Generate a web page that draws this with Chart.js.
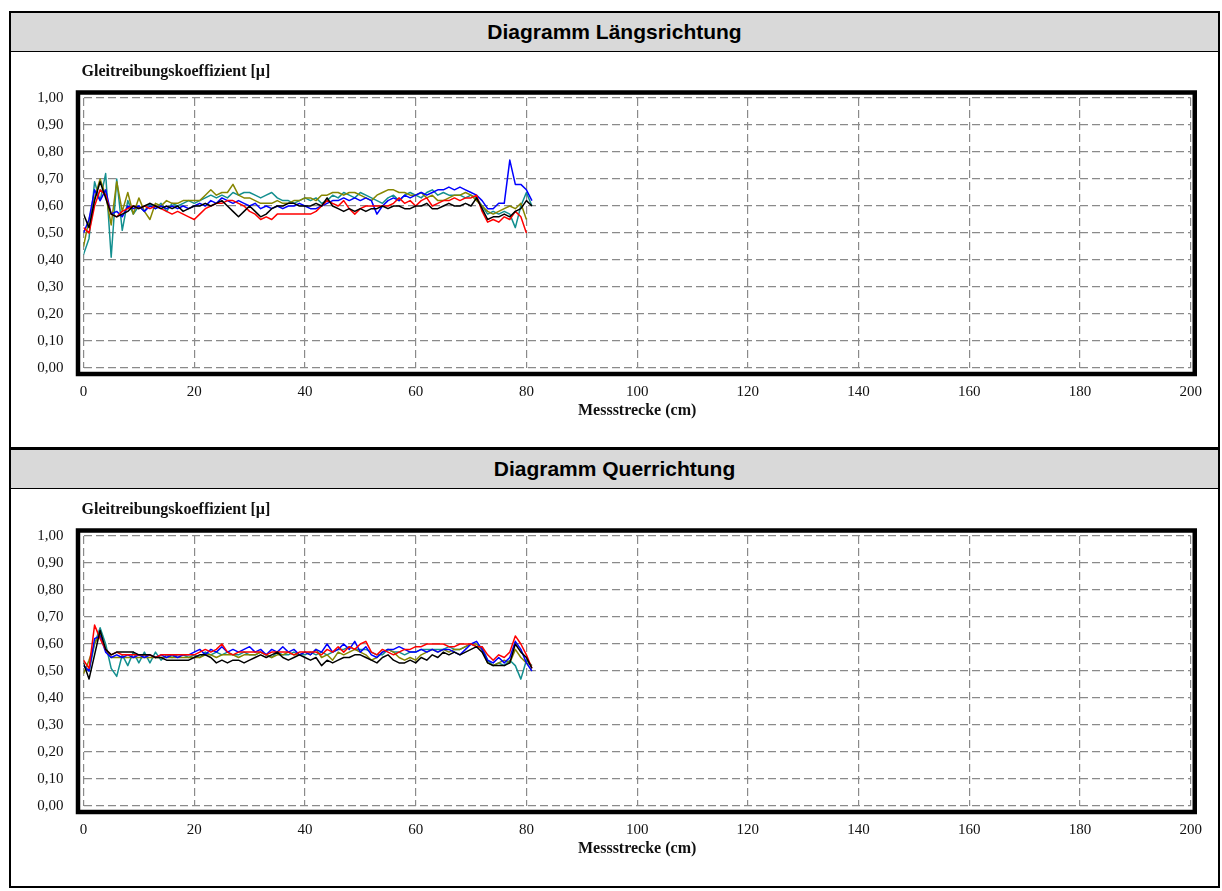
<!DOCTYPE html>
<html>
<head>
<meta charset="utf-8">
<script src="https://cdn.jsdelivr.net/npm/chart.js@4"></script>
<style>
  html, body { margin: 0; padding: 0; background: #fff; }
  body { width: 1222px; height: 891px; position: relative; overflow: hidden; }
  .frame { position: absolute; left: 9px; top: 11px; width: 1207px; height: 873px; border: 2px solid #000; }
  .band { position: absolute; left: 11px; width: 1207px; height: 38px; background: #d9d9d9;
          border-bottom: 1px solid #000; display: flex; align-items: center; justify-content: center;
          font: bold 21px "Liberation Sans", Arial, sans-serif; color: #000; }
  .sep { position: absolute; left: 9px; width: 1211px; height: 3px; background: #000; }
  canvas { position: absolute; left: 12px; }
</style>
</head>
<body>
<div class="frame"></div>
<div class="band" style="top:13px">Diagramm Längsrichtung</div>
<canvas id="chart-laengs" width="1205" height="392" style="top:54px"></canvas>
<div class="sep" style="top:447px"></div>
<div class="band" style="top:450px">Diagramm Querrichtung</div>
<canvas id="chart-quer" width="1205" height="392" style="top:492px"></canvas>

<script>
/* ═══════════════════════════════════
   DATA  (Messstrecke in cm, Werte in µ)
═══════════════════════════════════ */

var strecke = [0,1,2,3,4,5,6,7,8,9,10,11,12,13,14,15,16,17,18,19,20,21,22,23,24,25,26,27,28,29,
  30,31,32,33,34,35,36,37,38,39,40,41,42,43,44,45,46,47,48,49,50,51,52,53,54,55,56,57,58,59,
  60,61,62,63,64,65,66,67,68,69,70,71,72,73,74,75,76,77,78,79,80,81];

var xTicks = [0,20,40,60,80,100,120,140,160,180,200];
var yTicks = [0,0.1,0.2,0.3,0.4,0.5,0.6,0.7,0.8,0.9,1.0];

// Längsrichtung
var laengsBlau = [0.50,0.55,0.66,0.62,0.66,0.57,0.58,0.56,0.60,0.59,
  0.60,0.58,0.60,0.59,0.60,0.59,0.60,0.59,0.60,0.59,
  0.60,0.61,0.60,0.62,0.61,0.63,0.62,0.61,0.62,0.61,
  0.60,0.61,0.59,0.60,0.59,0.60,0.59,0.60,0.60,0.61,
  0.60,0.59,0.59,0.60,0.61,0.62,0.62,0.63,0.62,0.63,
  0.62,0.63,0.62,0.57,0.60,0.62,0.63,0.62,0.64,0.63,
  0.64,0.65,0.64,0.65,0.66,0.66,0.67,0.66,0.67,0.66,
  0.65,0.64,0.62,0.59,0.59,0.61,0.61,0.77,0.68,0.68,0.66,0.62];
var laengsRot = [0.52,0.50,0.60,0.66,0.64,0.57,0.56,0.58,0.59,0.60,
  0.59,0.60,0.59,0.60,0.59,0.58,0.57,0.58,0.57,0.56,
  0.55,0.57,0.59,0.60,0.61,0.61,0.62,0.62,0.61,0.60,
  0.58,0.57,0.55,0.56,0.55,0.57,0.57,0.57,0.57,0.57,
  0.57,0.57,0.58,0.60,0.62,0.61,0.60,0.62,0.59,0.57,
  0.59,0.60,0.60,0.60,0.60,0.60,0.61,0.63,0.61,0.62,
  0.60,0.62,0.63,0.60,0.61,0.62,0.62,0.63,0.62,0.63,
  0.63,0.64,0.58,0.54,0.55,0.54,0.56,0.55,0.58,0.56,0.50];
var laengsSchwarz = [0.57,0.52,0.62,0.69,0.63,0.57,0.56,0.57,0.58,0.60,
  0.59,0.60,0.61,0.60,0.59,0.60,0.59,0.60,0.58,0.59,
  0.60,0.60,0.61,0.60,0.61,0.62,0.60,0.58,0.56,0.58,
  0.60,0.58,0.56,0.57,0.59,0.60,0.60,0.61,0.61,0.60,
  0.60,0.60,0.61,0.60,0.63,0.60,0.59,0.58,0.59,0.58,
  0.59,0.58,0.59,0.59,0.60,0.59,0.60,0.60,0.59,0.59,
  0.60,0.60,0.61,0.59,0.59,0.60,0.61,0.60,0.60,0.61,
  0.60,0.63,0.59,0.55,0.56,0.56,0.57,0.56,0.58,0.59,0.62,0.60];
var laengsTuerkis = [0.42,0.48,0.69,0.62,0.72,0.41,0.70,0.51,0.62,0.57,
  0.60,0.58,0.61,0.59,0.61,0.58,0.61,0.60,0.61,0.62,
  0.61,0.62,0.63,0.64,0.63,0.64,0.63,0.65,0.64,0.65,
  0.65,0.64,0.63,0.64,0.65,0.63,0.62,0.62,0.61,0.62,
  0.63,0.62,0.63,0.61,0.62,0.64,0.63,0.65,0.64,0.63,
  0.65,0.64,0.63,0.62,0.61,0.63,0.64,0.62,0.64,0.65,
  0.64,0.63,0.65,0.66,0.64,0.65,0.64,0.64,0.64,0.63,
  0.64,0.63,0.60,0.57,0.58,0.57,0.58,0.57,0.52,0.60,0.65,0.60];
var laengsOliv = [0.45,0.55,0.63,0.70,0.64,0.53,0.69,0.58,0.65,0.57,
  0.63,0.58,0.55,0.61,0.60,0.62,0.61,0.61,0.62,0.62,
  0.62,0.62,0.64,0.66,0.64,0.65,0.65,0.68,0.64,0.63,
  0.63,0.62,0.61,0.61,0.61,0.62,0.61,0.61,0.62,0.62,
  0.63,0.63,0.62,0.64,0.64,0.65,0.65,0.64,0.65,0.65,
  0.64,0.63,0.62,0.64,0.65,0.66,0.66,0.65,0.65,0.64,
  0.64,0.65,0.63,0.64,0.62,0.62,0.63,0.64,0.64,0.65,
  0.64,0.62,0.60,0.58,0.57,0.58,0.59,0.60,0.59,0.61,0.55];

// Querrichtung
var querBlau = [0.52,0.50,0.62,0.63,0.57,0.55,0.56,0.55,0.56,0.55,
  0.56,0.55,0.56,0.55,0.56,0.55,0.56,0.55,0.56,0.56,
  0.57,0.58,0.56,0.58,0.57,0.59,0.57,0.58,0.57,0.58,
  0.59,0.57,0.58,0.56,0.58,0.57,0.59,0.57,0.58,0.56,
  0.57,0.56,0.58,0.57,0.60,0.57,0.58,0.60,0.58,0.61,
  0.57,0.59,0.56,0.55,0.57,0.58,0.58,0.59,0.58,0.57,
  0.57,0.58,0.57,0.58,0.57,0.58,0.58,0.57,0.56,0.58,
  0.60,0.61,0.58,0.54,0.53,0.55,0.53,0.55,0.61,0.58,0.53,0.50];
var querRot = [0.54,0.51,0.67,0.62,0.58,0.56,0.57,0.56,0.56,0.56,
  0.56,0.56,0.56,0.55,0.56,0.56,0.56,0.56,0.56,0.56,
  0.56,0.57,0.58,0.57,0.58,0.60,0.57,0.56,0.57,0.57,
  0.57,0.57,0.57,0.56,0.57,0.57,0.57,0.57,0.56,0.57,
  0.57,0.57,0.57,0.56,0.58,0.57,0.59,0.57,0.59,0.58,
  0.60,0.61,0.57,0.56,0.58,0.57,0.56,0.57,0.58,0.58,
  0.59,0.59,0.60,0.60,0.60,0.60,0.59,0.59,0.60,0.60,
  0.60,0.59,0.59,0.56,0.54,0.56,0.55,0.57,0.63,0.60,0.56,0.51];
var querSchwarz = [0.53,0.47,0.56,0.65,0.58,0.56,0.57,0.57,0.57,0.57,
  0.56,0.56,0.56,0.55,0.55,0.54,0.54,0.54,0.54,0.54,
  0.55,0.56,0.56,0.55,0.53,0.54,0.53,0.54,0.54,0.53,
  0.54,0.55,0.56,0.55,0.56,0.57,0.55,0.54,0.55,0.56,
  0.55,0.54,0.55,0.52,0.54,0.53,0.54,0.55,0.55,0.56,
  0.56,0.55,0.54,0.53,0.55,0.56,0.54,0.53,0.53,0.54,
  0.53,0.55,0.54,0.56,0.55,0.57,0.56,0.57,0.56,0.57,
  0.58,0.59,0.57,0.53,0.52,0.52,0.52,0.53,0.60,0.57,0.55,0.51];
var querTuerkis = [0.52,0.50,0.60,0.66,0.60,0.51,0.48,0.56,0.52,0.57,
  0.53,0.57,0.53,0.57,0.54,0.56,0.55,0.56,0.56,0.55,
  0.56,0.55,0.57,0.56,0.57,0.56,0.57,0.56,0.56,0.57,
  0.56,0.56,0.57,0.56,0.55,0.57,0.56,0.56,0.57,0.56,
  0.56,0.57,0.56,0.57,0.56,0.57,0.58,0.58,0.59,0.58,
  0.58,0.58,0.57,0.56,0.56,0.58,0.57,0.57,0.56,0.57,
  0.57,0.58,0.58,0.58,0.58,0.58,0.59,0.58,0.58,0.59,
  0.60,0.59,0.59,0.54,0.52,0.53,0.52,0.54,0.52,0.47,0.54,0.52];
var querOliv = [0.49,0.54,0.60,0.64,0.58,0.55,0.55,0.55,0.55,0.55,
  0.55,0.55,0.55,0.55,0.55,0.55,0.55,0.55,0.55,0.55,
  0.55,0.55,0.56,0.56,0.55,0.56,0.56,0.56,0.55,0.56,
  0.56,0.56,0.57,0.56,0.55,0.56,0.56,0.57,0.56,0.56,
  0.57,0.56,0.58,0.55,0.56,0.54,0.57,0.56,0.57,0.58,
  0.57,0.56,0.54,0.55,0.57,0.58,0.57,0.55,0.54,0.55,
  0.54,0.56,0.57,0.58,0.57,0.58,0.57,0.58,0.58,0.59,
  0.60,0.60,0.58,0.53,0.52,0.53,0.54,0.53,0.58,0.55,0.53,0.52];

/* ═══════════════════════════════════
   CHART SETUP
═══════════════════════════════════ */

var SERIF = '"Liberation Serif", "Times New Roman", serif';

// thick black frame round the plot + caption above it
var framePlugin = {
  id: 'frame',
  afterDraw: function(chart){
    var ctx = chart.ctx, a = chart.chartArea;
    ctx.save();
    ctx.lineWidth = 4.5;
    ctx.strokeStyle = '#000';
    ctx.strokeRect(a.left - 5.5, a.top - 5.5, a.right - a.left + 9.5, a.bottom - a.top + 11.5);
    ctx.font = 'bold 16px ' + SERIF;
    ctx.fillStyle = '#111';
    ctx.textBaseline = 'middle';
    ctx.fillText('Gleitreibungskoeffizient [µ]', a.left - 2, a.top - 26);
    ctx.restore();
  }
};

function points(vals){
  return vals.map(function(v, i){ return {x: strecke[i], y: v}; });
}

function line(vals, color){
  return {data: points(vals), borderColor: color, borderWidth: 1.5,
          pointRadius: 0, tension: 0, fill: false};
}

function buildChart(id, blau, rot, schwarz, tuerkis, oliv){
  var ctx = document.getElementById(id);
  if(!ctx || ctx._ch) return;
  ctx._ch = new Chart(ctx, {
    type: 'line',
    data: {
      datasets: [
        line(schwarz, '#000000'),
        line(rot, '#ff0000'),
        line(blau, '#0000ff'),
        line(oliv, '#868600'),
        line(tuerkis, '#138f8f')
      ]
    },
    plugins: [framePlugin],
    options: {
      responsive: false,
      animation: false,
      devicePixelRatio: 1,
      layout: {padding: {left: 0, top: 44, right: 25, bottom: 0}},
      plugins: {legend: {display: false}, tooltip: {enabled: false}},
      scales: {
        x: {
          type: 'linear', min: 0, max: 200,
          afterBuildTicks: function(s){ s.ticks = xTicks.map(function(v){ return {value: v}; }); },
          afterFit: function(s){ s.height = 78; },
          border: {display: false, dash: [8, 4]},
          grid: {color: '#8a8a8a', lineWidth: 1.2, drawTicks: false},
          ticks: {color: '#111', padding: 15, maxRotation: 0, autoSkip: false, font: {family: SERIF, size: 15}},
          title: {display: true, text: 'Messstrecke (cm)', color: '#111', padding: {top: 0, bottom: 26},
                  font: {family: SERIF, size: 16, weight: 'bold'}}
        },
        y: {
          min: 0, max: 1,
          afterBuildTicks: function(s){ s.ticks = yTicks.map(function(v){ return {value: v}; }); },
          afterFit: function(s){ s.width = 71.5; },
          border: {display: false, dash: [8, 4]},
          grid: {color: '#8a8a8a', lineWidth: 1.2, drawTicks: false},
          ticks: {color: '#111', padding: 20, font: {family: SERIF, size: 15},
                  callback: function(v){ return Number(v).toFixed(2).replace('.', ','); }}
        }
      },
      elements: {line: {borderJoinStyle: 'round'}}
    }
  });
}

buildChart('chart-laengs', laengsBlau, laengsRot, laengsSchwarz, laengsTuerkis, laengsOliv);
buildChart('chart-quer', querBlau, querRot, querSchwarz, querTuerkis, querOliv);
</script>
</body>
</html>
